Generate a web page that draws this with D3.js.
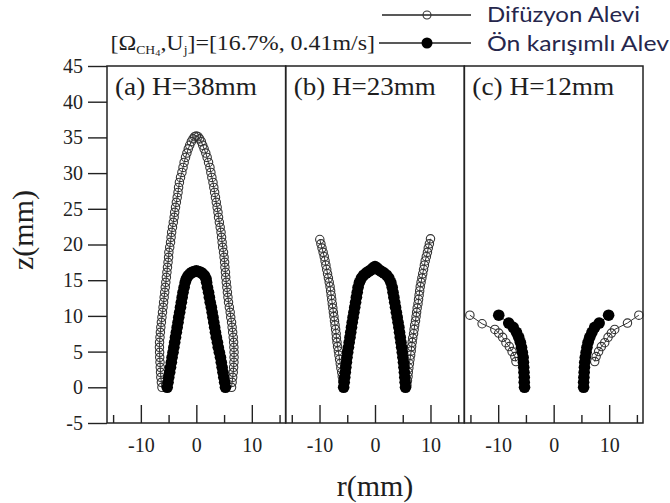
<!DOCTYPE html>
<html lang="tr">
<head>
<meta charset="UTF-8">
<title>Alev profilleri</title>
<script src="https://d3js.org/d3.v7.min.js"></script>
<style>
  body { margin: 0; background: #fff; }
  svg { display: block; background: #fff; }
  .serif { font-family: "Liberation Serif", "Times New Roman", serif; fill: #1e1e1e; }
  .frame { fill: none; stroke: #222; stroke-width: 1.5; }
  .legend { font-family: Lato, "Open Sans", sans-serif; font-size: 21px; fill: #26264c; }
</style>
</head>
<body>
<svg width="670" height="503"></svg>
<script>
    const panelLabels = ["(a) H=38mm", "(b) H=23mm", "(c) H=12mm"];
    const zTicks = [-5, 0, 5, 10, 15, 20, 25, 30, 35, 40, 45];
    const rMajor = [-10, 0, 10];
    const rMinor = [-15, -5, 5, 15];

    // (a) H=38mm  [r, z]
    const difA = [
        [-6.2,0],[-6.3,0.7],[-6.4,1.4],[-6.45,2.1],[-6.5,2.8],[-6.55,3.5],[-6.6,4.2],[-6.62,4.9],
        [-6.65,5.6],[-6.63,6.3],[-6.55,7.0],[-6.48,7.7],[-6.4,8.4],[-6.3,9.1],[-6.2,9.8],[-6.1,10.5],
        [-6.0,11.2],[-5.9,11.9],[-5.8,12.6],[-5.7,13.3],[-5.6,14.0],[-5.5,14.7],[-5.4,15.4],[-5.3,16.1],
        [-5.2,16.8],[-5.1,17.5],[-5.0,18.2],[-4.95,18.9],[-4.8,19.6],[-4.65,20.3],[-4.55,21.0],[-4.45,21.7],
        [-4.3,22.4],[-4.15,23.1],[-4.0,23.8],[-3.9,24.5],[-3.75,25.2],[-3.6,25.9],[-3.45,26.6],[-3.3,27.3],
        [-3.2,28.0],[-3.05,28.7],[-2.85,29.4],[-2.6,30.1],[-2.4,30.8],[-2.2,31.5],[-1.95,32.2],[-1.7,32.8],
        [-1.45,33.4],[-1.2,33.9],[-0.9,34.4],[-0.6,34.8],[-0.3,35.1],[0,35.2],
        [0.3,35.1],[0.6,34.8],[0.9,34.4],[1.15,33.9],[1.4,33.4],[1.7,32.8],[1.95,32.2],[2.2,31.5],
        [2.45,30.8],[2.62,30.1],[2.8,29.4],[3.0,28.7],[3.15,28.0],[3.3,27.3],[3.45,26.6],[3.6,25.9],
        [3.75,25.2],[3.9,24.5],[4.0,23.8],[4.15,23.1],[4.3,22.4],[4.45,21.7],[4.55,21.0],[4.65,20.3],
        [4.75,19.6],[4.9,18.9],[5.0,18.2],[5.1,17.5],[5.15,16.8],[5.25,16.1],[5.3,15.4],[5.4,14.7],
        [5.5,14.0],[5.6,13.3],[5.7,12.6],[5.8,11.9],[5.95,11.2],[6.1,10.5],[6.2,9.8],[6.35,9.1],
        [6.45,8.4],[6.55,7.7],[6.65,7.0],[6.72,6.3],[6.77,5.6],[6.8,4.9],[6.8,4.2],[6.78,3.5],
        [6.72,2.8],[6.65,2.1],[6.55,1.4],[6.45,0.7],[6.35,0]
    ];
    const preA = [
        [-5.25,0],[-5.1,0.7],[-4.97,1.4],[-4.8,2.1],[-4.65,2.8],[-4.5,3.5],[-4.37,4.2],[-4.2,4.9],
        [-4.05,5.6],[-3.9,6.3],[-3.75,7.0],[-3.6,7.7],[-3.45,8.4],[-3.3,9.1],[-3.17,9.8],[-3.0,10.5],
        [-2.85,11.2],[-2.7,11.9],[-2.55,12.6],[-2.4,13.3],[-2.2,14.0],[-2.0,14.7],[-1.8,15.2],[-1.5,15.6],
        [-1.15,15.9],[-0.8,16.1],[-0.4,16.2],[0,16.3],[0.4,16.2],[0.8,16.1],[1.15,15.9],[1.5,15.6],
        [1.75,15.2],[1.85,14.7],[2.0,14.0],[2.2,13.3],[2.35,12.6],[2.5,11.9],[2.7,11.2],[2.85,10.5],
        [3.0,9.8],[3.15,9.1],[3.3,8.4],[3.45,7.7],[3.6,7.0],[3.8,6.3],[3.95,5.6],[4.15,4.9],
        [4.35,4.2],[4.5,3.5],[4.65,2.8],[4.8,2.1],[4.95,1.4],[5.1,0.7],[5.25,0]
    ];

    // (b) H=23mm
    const difBLeft = [
        [-9.95,20.7],[-9.75,20.1],[-9.55,19.5],[-9.35,18.9],[-9.15,18.3],[-9.0,17.7],[-8.85,17.1],
        [-8.7,16.5],[-8.55,15.9],[-8.4,15.3],[-8.25,14.7],[-8.1,14.1],[-8.0,13.5],[-7.9,12.9],
        [-7.8,12.3],[-7.7,11.7],[-7.6,11.1],[-7.5,10.5],[-7.4,9.9],[-7.3,9.3],[-7.2,8.7],[-7.1,8.1],
        [-7.0,7.5],[-6.95,6.9],[-6.85,6.3],[-6.75,5.7],[-6.6,5.1],[-6.5,4.5],[-6.38,3.9],[-6.26,3.3],
        [-6.15,2.7],[-6.0,2.1],[-5.9,1.5],[-5.8,0.9],[-5.7,0.3]
    ];
    const difBRight = [
        [5.75,0.3],[5.85,0.9],[5.95,1.5],[6.0,2.1],[6.1,2.7],[6.2,3.3],[6.3,3.9],[6.42,4.5],
        [6.52,5.1],[6.6,5.7],[6.7,6.3],[6.8,6.9],[6.95,7.5],[7.05,8.1],[7.15,8.7],[7.3,9.3],
        [7.4,9.9],[7.5,10.5],[7.6,11.1],[7.75,11.7],[7.85,12.3],[7.95,12.9],[8.05,13.5],[8.15,14.1],
        [8.3,14.7],[8.45,15.3],[8.6,15.9],[8.75,16.5],[8.9,17.1],[9.05,17.7],[9.25,18.3],[9.45,18.9],
        [9.6,19.5],[9.8,20.1],[10.0,20.8]
    ];
    const preB = [
        [-5.65,0],[-5.55,0.7],[-5.45,1.4],[-5.35,2.1],[-5.25,2.8],[-5.15,3.5],[-5.05,4.2],[-4.92,4.9],
        [-4.78,5.6],[-4.65,6.3],[-4.5,7.0],[-4.37,7.7],[-4.23,8.4],[-4.1,9.1],[-3.95,9.8],[-3.8,10.5],
        [-3.65,11.2],[-3.5,11.9],[-3.35,12.6],[-3.2,13.3],[-3.05,14.0],[-2.8,14.7],[-2.45,15.3],
        [-2.05,15.7],[-1.6,16.0],[-1.2,16.2],[-0.8,16.4],[-0.4,16.7],[0,16.9],[0.4,16.7],[0.8,16.4],
        [1.2,16.2],[1.65,16.0],[2.1,15.7],[2.5,15.3],[2.85,14.7],[3.1,14.0],[3.25,13.3],[3.4,12.6],
        [3.55,11.9],[3.7,11.2],[3.85,10.5],[4.0,9.8],[4.15,9.1],[4.3,8.4],[4.42,7.7],[4.55,7.0],
        [4.68,6.3],[4.8,5.6],[4.92,4.9],[5.03,4.2],[5.13,3.5],[5.22,2.8],[5.3,2.1],[5.37,1.4],
        [5.43,0.7],[5.5,0]
    ];

    // (c) H=12mm
    const difCLeft = [
        [-15.1,10.1],[-12.9,8.9],[-10.6,8.1],[-9.9,7.6],[-9.2,7.0],[-8.6,6.25],[-8.0,5.7],
        [-7.5,5.0],[-7.0,4.3],[-6.8,3.6]
    ];
    const difCRight = [
        [7.4,3.6],[7.65,4.3],[8.1,5.0],[8.6,5.7],[9.2,6.25],[9.8,7.0],[10.4,7.6],[11.0,8.1],
        [13.3,9.0],[15.35,10.1]
    ];
    const preCLeft = [
        [-9.9,10.1],[-8.1,9.0],[-7.3,8.4],[-6.7,7.7],[-6.3,7.0],[-6.0,6.3],[-5.8,5.6],[-5.65,4.9],
        [-5.5,4.2],[-5.45,3.5],[-5.4,2.8],[-5.35,2.1],[-5.3,1.4],[-5.3,0.7],[-5.25,0]
    ];
    const preCRight = [
        [5.4,0],[5.4,0.7],[5.45,1.4],[5.5,2.1],[5.55,2.8],[5.6,3.5],[5.7,4.2],[5.85,4.9],
        [6.0,5.6],[6.2,6.3],[6.5,7.0],[6.9,7.7],[7.4,8.4],[8.2,9.0],[9.9,10.1]
    ];

    const difSeries = [[difA], [difBLeft, difBRight], [difCLeft, difCRight]];
    const preSeries = [[preA], [preB], [preCLeft, preCRight]];

    const svg = d3.select("svg");
    const plotLeft = 107, plotRight = 643, plotTop = 66, plotBottom = 423;
    const pw = (plotRight - plotLeft) / 3;
    const y = d3.scaleLinear().domain([-5, 45]).range([plotBottom, plotTop]);
    const serifFont = "'Liberation Serif', 'Times New Roman', serif";

    function styleAxis(a) {
        a.select(".domain").remove();
        a.selectAll(".tick text")
            .style("font-family", serifFont)
            .style("font-size", "20px")
            .attr("fill", "#222");
        a.selectAll(".tick line").attr("stroke", "#222").attr("stroke-width", 1.4);
    }

    panelLabels.forEach((label, i) => {
        const x0 = plotLeft + i * pw;
        const x = d3.scaleLinear().domain([-16.1, 16.1]).range([x0, x0 + pw]);
        const line = d3.line().x(d => x(d[0])).y(d => y(d[1]));
        const g = svg.append("g");

        g.append("g")
            .attr("transform", `translate(0,${plotBottom})`)
            .call(d3.axisBottom(x).tickValues(rMinor).tickSize(-8).tickFormat(""))
            .call(styleAxis);
        g.append("g")
            .attr("transform", `translate(0,${plotBottom})`)
            .call(d3.axisBottom(x).tickValues(rMajor).tickSize(-18).tickPadding(15).tickFormat(d => String(d)))
            .call(styleAxis);

        // diffusion flame: open circles
        difSeries[i].forEach(s => {
            g.append("path").attr("d", line(s))
                .attr("fill", "none").attr("stroke", "#333").attr("stroke-width", 1);
            g.selectAll(null).data(s).enter().append("circle")
                .attr("cx", d => x(d[0])).attr("cy", d => y(d[1])).attr("r", 4.2)
                .attr("fill", "none").attr("stroke", "#333").attr("stroke-width", 1.1);
        });
        // premixed flame: filled circles
        preSeries[i].forEach(s => {
            g.append("path").attr("d", line(s))
                .attr("fill", "none").attr("stroke", "#000").attr("stroke-width", 1);
            g.selectAll(null).data(s).enter().append("circle")
                .attr("cx", d => x(d[0])).attr("cy", d => y(d[1])).attr("r", 5.8)
                .attr("fill", "#000");
        });

        g.append("rect").attr("class", "frame")
            .attr("x", x0).attr("y", plotTop).attr("width", pw).attr("height", plotBottom - plotTop);

        g.append("text").attr("class", "serif")
            .attr("x", x0 + 8).attr("y", 95)
            .attr("font-size", 25)
            .attr("textLength", 142).attr("lengthAdjust", "spacingAndGlyphs")
            .text(label);
    });

    svg.append("g")
        .attr("transform", `translate(${plotLeft},0)`)
        .call(d3.axisLeft(y).tickValues(zTicks).tickSize(19).tickPadding(5).tickFormat(d => String(d)))
        .call(styleAxis);

    // axis titles
    svg.append("text").attr("class", "serif")
        .attr("x", (plotLeft + plotRight) / 2).attr("y", 496)
        .attr("text-anchor", "middle").attr("font-size", 30)
        .text("r(mm)");
    svg.append("text").attr("class", "serif")
        .attr("transform", "translate(33,230) rotate(-90)")
        .attr("text-anchor", "middle").attr("font-size", 30)
        .text("z(mm)");

    // legend
    const legend = svg.append("g");
    legend.append("line").attr("x1", 382).attr("x2", 471).attr("y1", 15).attr("y2", 15)
        .attr("stroke", "#222").attr("stroke-width", 1.3);
    legend.append("circle").attr("cx", 427).attr("cy", 15).attr("r", 4)
        .attr("fill", "none").attr("stroke", "#333").attr("stroke-width", 1.1);
    legend.append("text").attr("class", "legend").attr("x", 487).attr("y", 22)
        .attr("textLength", 153).attr("lengthAdjust", "spacingAndGlyphs")
        .text("Difüzyon Alevi");

    legend.append("line").attr("x1", 379).attr("x2", 471).attr("y1", 43).attr("y2", 43)
        .attr("stroke", "#222").attr("stroke-width", 1.3);
    legend.append("circle").attr("cx", 427).attr("cy", 43).attr("r", 5.5).attr("fill", "#000");
    legend.append("text").attr("class", "legend").attr("x", 487).attr("y", 51)
        .attr("textLength", 182).attr("lengthAdjust", "spacingAndGlyphs")
        .text("Ön karışımlı Alev");

    const cond = svg.append("text").attr("class", "serif")
        .attr("transform", "translate(375,50) scale(1.14,1)")
        .attr("text-anchor", "end").attr("font-size", 21);
    cond.append("tspan").text("[Ω");
    cond.append("tspan").attr("font-size", 12).attr("dy", 4).text("CH");
    cond.append("tspan").attr("font-size", 9).attr("dy", 2).text("4");
    cond.append("tspan").attr("dy", -6).text(",U");
    cond.append("tspan").attr("font-size", 12).attr("dy", 4).text("j");
    cond.append("tspan").attr("dy", -4).text("]=[16.7%, 0.41m/s]");
</script>
</body>
</html>
